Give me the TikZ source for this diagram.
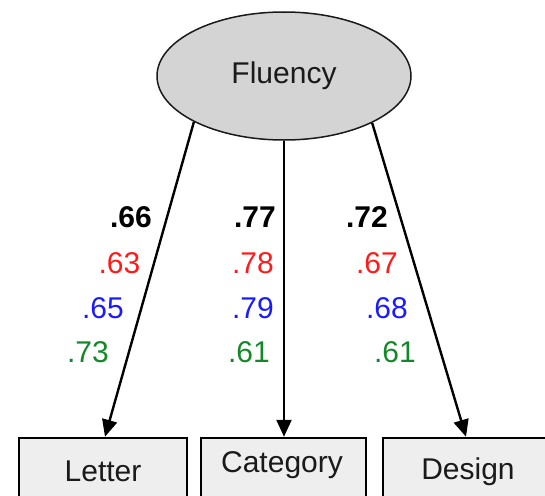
\documentclass[tikz,border=0pt]{standalone}
\usepackage{fontspec}
\setmainfont{Liberation Sans}
\usetikzlibrary{arrows.meta,shapes.geometric}
\definecolor{ellfill}{HTML}{D4D4D4}
\definecolor{boxfill}{HTML}{EEEEEE}
\definecolor{txt}{HTML}{1A1A1A}
\definecolor{numred}{HTML}{FF1A1A}
\definecolor{numblue}{HTML}{1A1AFF}
\definecolor{numgreen}{RGB}{20,135,40}
\begin{document}
\begin{tikzpicture}[x=1pt,y=-1pt,
  every node/.style={font=\fontsize{30}{36}\selectfont},
  latent/.style={ellipse,draw=txt,line width=1.5pt,fill=ellfill,minimum width=254pt,minimum height=128pt,inner sep=0pt,text=txt},
  obsbox/.style={rectangle,draw=black,line width=2.5pt,fill=boxfill,inner sep=0pt},
  boxlabel/.style={text=txt,anchor=center},
  load/.style={-{Triangle[length=17pt,width=15pt]},line width=2.4pt},
  num/.style={anchor=base,inner sep=0pt},
  nk/.style={num,text=black,font=\fontsize{30}{36}\selectfont\bfseries},
  nr/.style={num,text=numred},
  nb/.style={num,text=numblue},
  ng/.style={num,text=numgreen}]
\useasboundingbox (0,0) rectangle (545,495);
\clip (0,0) rectangle (545,495);
\node[latent] (fl) at (284,76) {Fluency};
% boxes
\node[obsbox,minimum width=168pt,minimum height=70pt] (bl) at (103,473) {};
\node[obsbox,minimum width=165pt,minimum height=70pt] (bc) at (283.5,473) {};
\node[obsbox,minimum width=170pt,minimum height=70pt] (bd) at (468,473) {};
\node[boxlabel] (tl) at (103,471) {Letter};
\node[boxlabel] (tc) at (282,465) {Category};
\node[boxlabel] (td) at (468,472) {Design};
% arrows
\draw[load] (fl.207) -- ([xshift=2pt]bl.north);
\draw[load] (fl.south) -- (fl.south |- bc.north);
\draw[load] (fl.332) -- ([xshift=-2pt]bd.north);
% loadings
\node[nk] (l1) at (131,227) {.66};
\node[nr] (l2) at (119.5,273) {.63};
\node[nb] (l3) at (103,318) {.65};
\node[ng] (l4) at (88,362) {.73};
\node[nk] (m1) at (255,227) {.77};
\node[nr] (m2) at (253,273) {.78};
\node[nb] (m3) at (253,318) {.79};
\node[ng] (m4) at (249,362) {.61};
\node[nk] (r1) at (367,227) {.72};
\node[nr] (r2) at (377,273) {.67};
\node[nb] (r3) at (387,318) {.68};
\node[ng] (r4) at (395,362) {.61};
\end{tikzpicture}
\end{document}
